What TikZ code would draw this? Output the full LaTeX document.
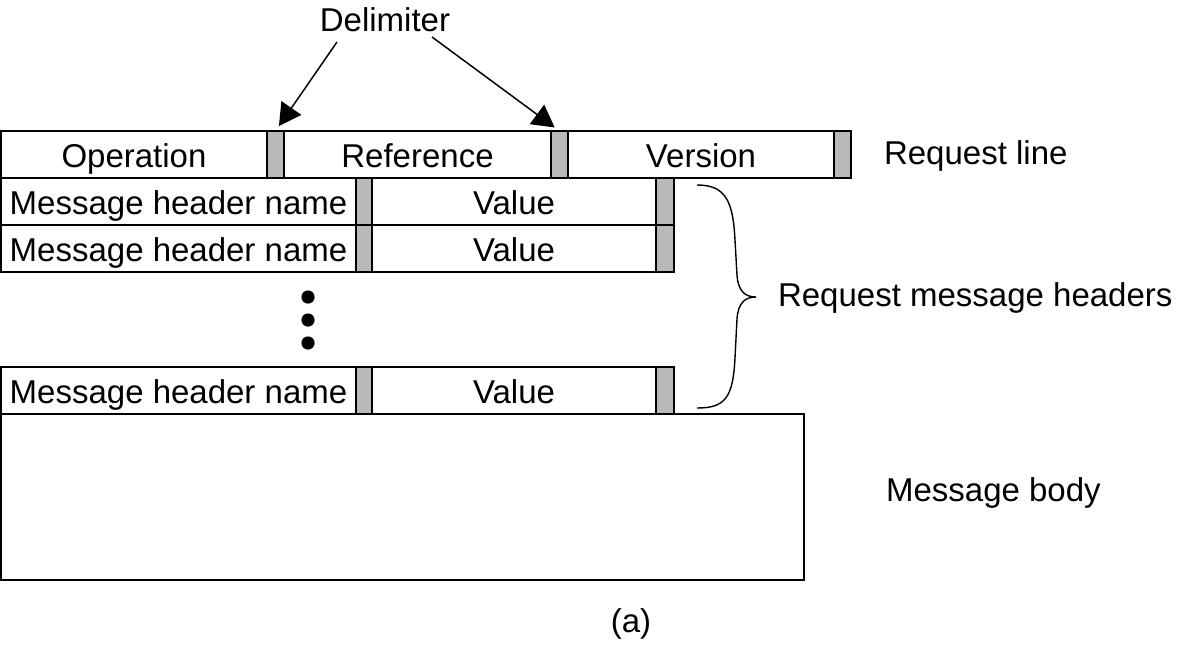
\documentclass[tikz,border=0pt]{standalone}
\usepackage{fontspec}
\setmainfont{Liberation Sans}
\usetikzlibrary{positioning,arrows.meta}
\definecolor{delimgray}{RGB}{185,185,185}

\begin{document}
\begin{tikzpicture}[
    x=0.5pt, y=-0.5pt,
    every node/.style={font=\fontsize{16.5}{19}\selectfont},
    field/.style={draw,line width=0.9pt,rectangle,fill=white,inner sep=0pt,outer sep=0pt,
        text height=14pt,text depth=1.5pt,minimum height=23.5pt},
    dl/.style={draw,line width=0.9pt,rectangle,fill=delimgray,inner sep=0pt,outer sep=0pt,minimum height=23.5pt},
    dot/.style={circle,fill=black,inner sep=0pt,minimum size=6.6pt},
    arr/.style={-{Triangle[length=11pt,width=12pt]},line width=0.75pt,shorten >=3pt},
]
    \useasboundingbox (0,0) rectangle (1201,660);

    % request line
    \node[field,anchor=north west,minimum width=133pt] (op) at (1,131) {Operation};
    \node[dl,right=0pt of op,minimum width=8.5pt] (d1) {};
    \node[field,right=0pt of d1,minimum width=133.5pt] (ref) {Reference};
    \node[dl,right=0pt of ref,minimum width=8.5pt] (d2) {};
    \node[field,right=0pt of d2,minimum width=133pt] (ver) {Version};
    \node[dl,right=0pt of ver,minimum width=8.5pt] (d3) {};

    % header lines
    \node[field,anchor=north west,minimum width=177.5pt] (hna) at (op.south west) {Message header name};
    \node[dl,right=0pt of hna,minimum width=8pt] (hla) {};
    \node[field,right=0pt of hla,minimum width=142pt] (hva) {Value};
    \node[dl,right=0pt of hva,minimum width=9pt] (hra) {};

    \node[field,anchor=north west,minimum width=177.5pt] (hnb) at (hna.south west) {Message header name};
    \node[dl,right=0pt of hnb,minimum width=8pt] (hlb) {};
    \node[field,right=0pt of hlb,minimum width=142pt] (hvb) {Value};
    \node[dl,right=0pt of hvb,minimum width=9pt] (hrb) {};

    \node[dot] (dota) at (308,297) {};
    \node[dot] (dotb) at (308,320) {};
    \node[dot] (dotc) at (308,343) {};

    \node[field,anchor=north west,minimum width=177.5pt] (hnc) at (1,367) {Message header name};
    \node[dl,right=0pt of hnc,minimum width=8pt] (hlc) {};
    \node[field,right=0pt of hlc,minimum width=142pt] (hvc) {Value};
    \node[dl,right=0pt of hvc,minimum width=9pt] (hrc) {};

    % body
    \node[field,anchor=north west,minimum width=401.5pt,minimum height=83pt,text height=0pt,text depth=0pt] (body) at (hnc.south west) {};

    % labels
    \node (delim) at (385,20) {Delimiter};
    \node[anchor=west] (reqline) at (877,156) {Request line};
    \node[anchor=west] (reqhead) at (771,298) {Request message headers};
    \node[anchor=west] (msgbody) at (879,493) {Message body};
    \node (cap) at (631,624) {(a)};

    \coordinate (da) at (337,42);
    \coordinate (db) at (432,37);
    \draw[arr] (da) -- (d1.north);
    \draw[arr] (db) -- (d2.north);

    % brace
    \draw[line width=0.7pt]
        (697,185) .. controls (725,185) and (733,200) .. (735,240)
        -- (737,275) .. controls (738,291) and (745,297) .. (756,297)
        .. controls (745,297) and (738,303) .. (737,319)
        -- (735,358) .. controls (733,398) and (725,408) .. (697,408);

\end{tikzpicture}
\end{document}
